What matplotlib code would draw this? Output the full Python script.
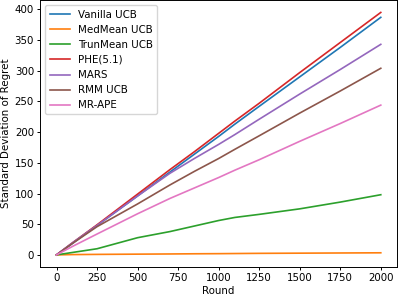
# Standard deviation of regret over rounds for several bandit algorithms.

import matplotlib.pyplot as plt

rounds = [0, 100, 250, 500, 700, 850, 1000, 1100, 1250, 1500, 1750, 2000]

vanilla_ucb = [0, 19, 48, 96, 135, 164, 193, 213, 242, 290, 338, 387]
medmean_ucb = [0, 0.5, 0.8, 1.2, 1.5, 1.8, 2.0, 2.2, 2.5, 2.8, 3.1, 3.4]
trunmean_ucb = [0, 4, 10, 28, 38, 47, 56, 61, 66, 75, 86, 98]
phe = [0, 20, 49, 99, 139, 168, 198, 218, 247, 297, 346, 395]
mars = [0, 20, 48, 96, 133, 157, 180, 196, 221, 262, 302, 343]
rmm_ucb = [0, 19, 46, 83, 114, 136, 157, 172, 194, 231, 267, 304]
mr_ape = [0, 14, 34, 67, 92, 109, 126, 138, 155, 185, 214, 244]

series = [
    ("Vanilla UCB", vanilla_ucb),
    ("MedMean UCB", medmean_ucb),
    ("TrunMean UCB", trunmean_ucb),
    ("PHE(5.1)", phe),
    ("MARS", mars),
    ("RMM UCB", rmm_ucb),
    ("MR-APE", mr_ape),
]

plt.rcParams['font.size'] = 7.4

fig = plt.figure(figsize=(3.99, 2.98), dpi=100)
ax = fig.add_axes([0.101, 0.104, 0.894, 0.895])

for name, values in series:
    ax.plot(rounds, values, label=name, linewidth=1.2)

ax.set_xlabel("Round", labelpad=2)
ax.set_ylabel("Standard Deviation of Regret", labelpad=3)

ax.set_xticks([0, 250, 500, 750, 1000, 1250, 1500, 1750, 2000])
ax.set_yticks([0, 50, 100, 150, 200, 250, 300, 350, 400])
ax.tick_params(axis='both', length=2.5, width=0.7, pad=2)

for spine in ax.spines.values():
    spine.set_linewidth(0.7)

ax.legend(loc='upper left', handlelength=2.0, borderpad=0.4, labelspacing=0.5)

plt.savefig('out.png', dpi=100)
